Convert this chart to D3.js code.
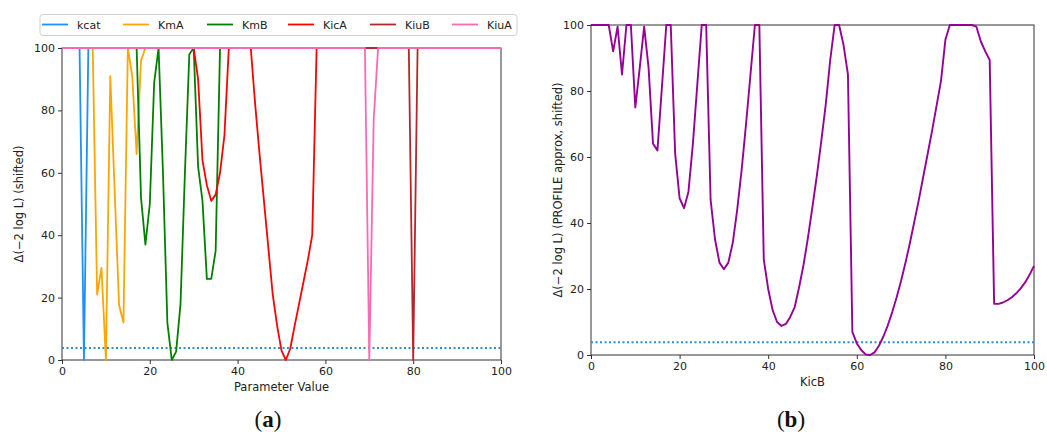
<!DOCTYPE html>
<html><head><meta charset="utf-8">
<script src="https://cdn.jsdelivr.net/npm/d3@7"></script>
<style>
body{margin:0;background:#fff;}
svg{display:block;font-family:"DejaVu Sans",sans-serif;}
</style></head>
<body><svg id="c" width="1047" height="434"></svg>
<script>
// ---------- data (panel a) ----------
const seriesNames = ["kcat","KmA","KmB","KicA","KiuB","KiuA"];
const kcatX = [0,4,5,6,100];
const kcatY = [100,100,0,100,100];
const kmaX = [0,7,8,9,10,11,12,13,14,15,16,17,18,19,100];
const kmaY = [100,100,21,29.5,0,91,54,17.6,12,100,91,66,96,100,100];
const kmbX = [0,17,18,19,20,21,22,23,24,25,26,27,28,29,30,31,32,33,34,35,36,100];
const kmbY = [100,100,52,37,50,89,100,60,12,0,2.7,18,60,98,100,62,51,26,26,35,100,100];
const kicaX = [0,30,31,32,33,34,35,36,37,38,43,44,45,46,47,48,49,50,51,52,53,54,55,56,57,58,100];
const kicaY = [100,100,90,64,56,51,53,60,72,100,100,82,66,51,36,21,11,3,0,3.7,11,18,25,32,40,100,100];
const kiubX = [0,79,80,81,100];
const kiubY = [100,100,0,100,100];
const kiuaX = [0,69,70,71,72,100];
const kiuaY = [100,100,0,77,100,100];
const threshold = 3.84;

// ---------- data (panel b) ----------
const kicbX = [0,1,2,3,4,5,6,7,8,9,10,11,12,13,14,15,16,17,18,19,20,21,22,23,24,25,26,27,28,29,30,
  31,32,33,34,35,36,37,38,39,40,41,42,43,44,45,46,47,48,49,50,51,52,53,54,55,56,57,58,59,60,
  61,62,63,64,65,66,67,68,69,70,71,72,73,74,75,76,77,78,79,80,81,82,83,84,85,86,87,88,89,90,
  91,92,93,94,95,96,97,98,99,100];
const kicbY = [100,100,100,100,100,92,99.5,85,100,100,75,87,99.5,87,64,62,81,100,100,61,47.5,44.5,49.5,64,82,100,100,47,35,28,26,
  28,34,44,56,70,85,100,100,29,20,13.6,10,8.8,9.4,11.6,14.6,20.7,27.5,35.8,45,54.5,65,76,89.4,100,100,94,85,7,3.5,
  1.5,0.2,0,0.8,2.8,5.6,9,13,17.5,22.5,28,34,40.5,47,54,61,68,75.5,83,95.5,100,100,100,100,100,100,99.5,95,92,89.4,
  15.5,15.5,15.9,16.6,17.5,18.7,20.2,22,24.3,27];

const xTicks = [0,20,40,60,80,100];
const yTicks = [0,20,40,60,80,100];
const colors = ["#1e90ff","#ffa500","#008000","#ff0000","#b8262b","#ff69b4"];

// ---------- drawing ----------
const svg = d3.select("#c");
const font = "DejaVu Sans, sans-serif";

function panel(box){
  const x = d3.scaleLinear().domain([0,100]).range([box.l, box.r]);
  const y = d3.scaleLinear().domain([0,100]).range([box.b, box.t]);
  const g = svg.append("g");
  return {x,y,g};
}
function axes(p, box){
  p.g.append("rect").attr("x",box.l).attr("y",box.t).attr("width",box.r-box.l).attr("height",box.b-box.t)
    .attr("fill","none").attr("stroke","#333").attr("stroke-width",1);
  const ax = p.g.append("g").attr("transform",`translate(0,${box.b})`)
    .call(d3.axisBottom(p.x).tickValues(xTicks).tickSize(4).tickPadding(3));
  const ay = p.g.append("g").attr("transform",`translate(${box.l},0)`)
    .call(d3.axisLeft(p.y).tickValues(yTicks).tickSize(4).tickPadding(3));
  [ax,ay].forEach(a=>{
    a.selectAll("text").attr("font-size",11).attr("font-family",font).attr("fill","#222");
    a.selectAll("line").attr("stroke","#333");
    a.select(".domain").remove();
  });
}
function drawLine(p, xs, ys, color, w){
  const line = d3.line().x(d=>p.x(d[0])).y(d=>p.y(d[1]));
  p.g.append("path").datum(xs.map((v,i)=>[v,ys[i]])).attr("d",line)
    .attr("fill","none").attr("stroke",color).attr("stroke-width",w).attr("stroke-linejoin","round");
}
function thresh(p){
  p.g.append("line").attr("x1",p.x(0)).attr("x2",p.x(100)).attr("y1",p.y(threshold)).attr("y2",p.y(threshold))
    .attr("stroke","#2a8fd6").attr("stroke-width",2).attr("stroke-dasharray","2,2.5");
}

// Panel a
const boxA = {l:62, r:501, t:48, b:360};
const pa = panel(boxA);
axes(pa, boxA);
thresh(pa);
const dataA = [[kcatX,kcatY],[kmaX,kmaY],[kmbX,kmbY],[kicaX,kicaY],[kiubX,kiubY],[kiuaX,kiuaY]];
dataA.forEach((d,i)=>drawLine(pa, d[0], d[1], colors[i], 1.8));
pa.g.append("text").attr("x",(boxA.l+boxA.r)/2).attr("y",391).attr("text-anchor","middle")
  .attr("font-size",11.5).attr("fill","#222").text("Parameter Value");
pa.g.append("text").attr("transform",`translate(23,${(boxA.t+boxA.b)/2}) rotate(-90)`).attr("text-anchor","middle")
  .attr("font-size",11.5).attr("fill","#222").text("Δ(−2 log L) (shifted)");

// Legend
const leg = svg.append("g");
leg.append("rect").attr("x",40).attr("y",14.5).attr("width",477).attr("height",21).attr("rx",3)
  .attr("fill","#fff").attr("stroke","#d0d0d0").attr("stroke-width",1);
const legX = [42,123,207,288,370,452];
seriesNames.forEach((n,i)=>{
  leg.append("line").attr("x1",legX[i]).attr("x2",legX[i]+26).attr("y1",24.5).attr("y2",24.5)
    .attr("stroke",colors[i]).attr("stroke-width",1.8);
  leg.append("text").attr("x",legX[i]+35).attr("y",28.5).attr("font-size",11).attr("fill","#222").text(n);
});

// Panel b
const boxB = {l:591, r:1034, t:25, b:355};
const pb = panel(boxB);
axes(pb, boxB);
thresh(pb);
drawLine(pb, kicbX, kicbY, "#960096", 1.9);
pb.g.append("text").attr("x",(boxB.l+boxB.r)/2).attr("y",386).attr("text-anchor","middle")
  .attr("font-size",11.5).attr("fill","#222").text("KicB");
pb.g.append("text").attr("transform",`translate(562,${(boxB.t+boxB.b)/2}) rotate(-90)`).attr("text-anchor","middle")
  .attr("font-size",11.5).attr("fill","#222").text("Δ(−2 log L) (PROFILE approx, shifted)");

// Captions
function caption(cx, letter){
  const t = svg.append("text").attr("x",cx).attr("y",427).attr("text-anchor","middle")
    .attr("font-family","Liberation Serif, serif").attr("font-size",23).attr("fill","#111");
  t.append("tspan").text("(");
  t.append("tspan").attr("font-weight","bold").text(letter);
  t.append("tspan").text(")");
}
caption(268,"a");
caption(791,"b");
</script></body></html>
